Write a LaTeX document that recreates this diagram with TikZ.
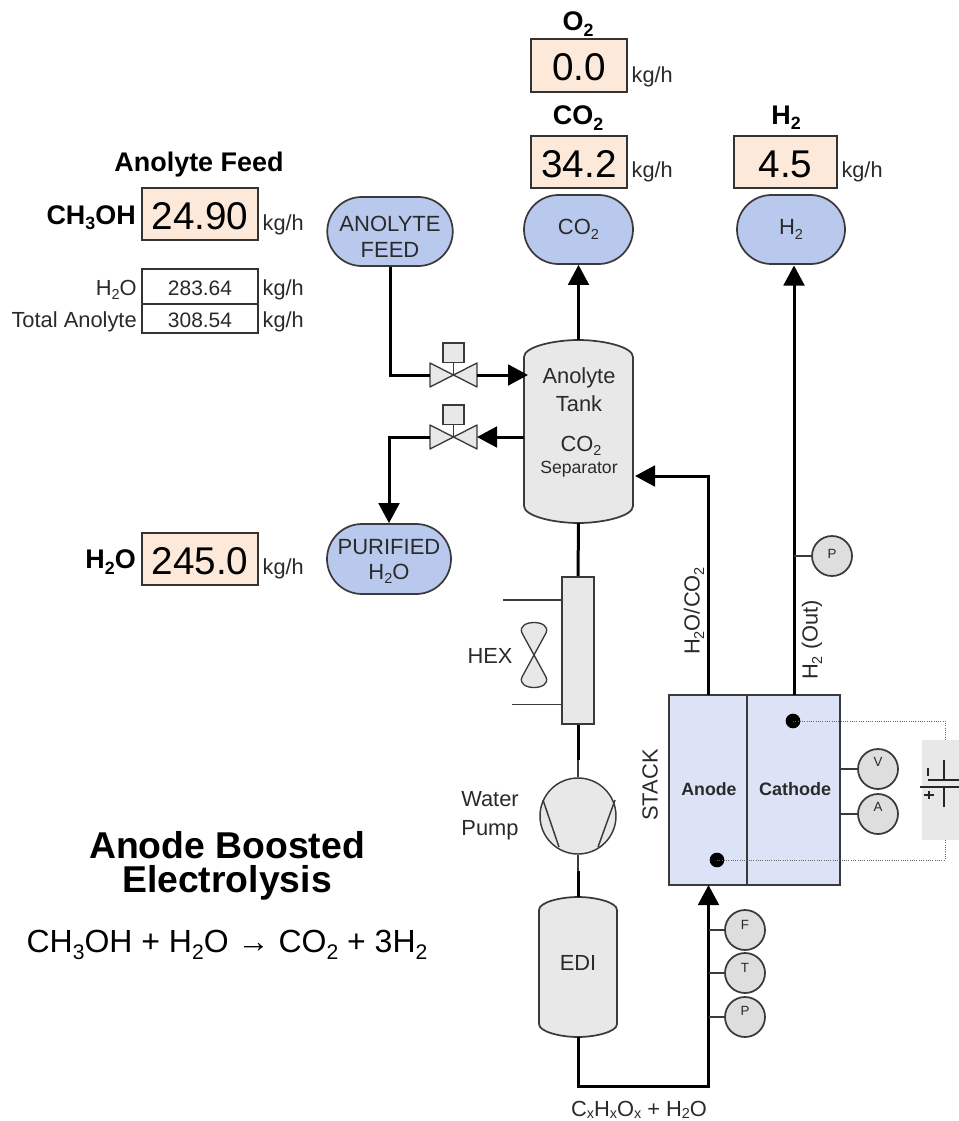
\documentclass[tikz,border=0pt]{standalone}
\usepackage{fontspec}
\usepackage{graphicx}
\setmainfont{Liberation Sans}
\usetikzlibrary{arrows.meta,shapes.misc,calc}
\newcommand{\lowsub}[1]{\raisebox{-0.2em}{\scalebox{.66}{#1}}}
\newcommand{\fsz}[1]{\fontsize{#1}{#1}\selectfont}
\definecolor{boxfill}{HTML}{FCE9DA}
\definecolor{termfill}{HTML}{B9C9EE}
\definecolor{stackfill}{HTML}{DCE3F6}
\definecolor{vesselfill}{HTML}{E8E8E8}
\definecolor{instfill}{HTML}{DEDEDE}
\definecolor{edge}{HTML}{3A3A3A}
\definecolor{ink}{HTML}{2A2A2A}
\tikzset{
  x=0.75pt,y=-0.75pt,
  pipe/.style={line width=2.25pt,black},
  flow/.style={pipe,-{Triangle[length=15pt,width=15.5pt]}},
  thinpipe/.style={line width=1.4pt,edge},
  stub/.style={line width=1.5pt,edge},
  outline/.style={draw=edge,line width=1.3pt},
  term/.style={rounded rectangle,outline,fill=termfill,inner sep=0pt,align=center,text=ink,font=\fsz{16.5pt},minimum width=#1},
  term/.default=93pt,
  valbox/.style={draw=black!80,line width=1.2pt,fill=boxfill,inner sep=0pt,font=\fsz{29pt},text=black,text height=23pt,text depth=0pt},
  plainbox/.style={draw=black!80,line width=1.2pt,fill=white,inner sep=0pt,font=\fsz{15.7pt},text=ink,text height=14pt,text depth=0pt},
  unit/.style={inner sep=0pt,font=\fsz{16.3pt},text=ink,yshift=-1.5pt},
  rlabel/.style={inner sep=0pt,anchor=east,font=\fsz{16.4pt},text=ink,yshift=-1.5pt},
  blabel/.style={inner sep=0pt,font=\bfseries\fsz{20.2pt},text=black,yshift=-1.5pt},
  lbl/.style={inner sep=0pt,font=\fsz{16.4pt},text=ink,align=center},
  ghost/.style={inner sep=0pt,outer sep=0pt,draw=none},
  inst/.style={circle,outline,fill=instfill,inner sep=0pt,minimum size=30pt},
  instl/.style={inner sep=0pt,font=\fsz{10pt},text=ink},
  dot/.style={circle,fill=black,inner sep=0pt,minimum size=11pt},
  wire/.style={line width=0.7pt,black!60,densely dotted},
}
% vessel outline: #1 cx, #2 half width, #3 top, #4 bottom, #5 shoulder
\newcommand{\vesselshape}[5]{%
  \draw[outline,fill=vesselfill]
    ({#1-#2},{#3+#5}) .. controls ({#1-#2},{#3+#5*0.4}) and ({#1-#2*0.45},#3) .. (#1,#3)
    .. controls ({#1+#2*0.45},#3) and ({#1+#2},{#3+#5*0.4}) .. ({#1+#2},{#3+#5})
    -- ({#1+#2},{#4-#5})
    .. controls ({#1+#2},{#4-#5*0.4}) and ({#1+#2*0.45},#4) .. (#1,#4)
    .. controls ({#1-#2*0.45},#4) and ({#1-#2},{#4-#5*0.4}) .. ({#1-#2},{#4-#5}) -- cycle;}
% valve: #1 name, #2 cx, #3 cy, square top
\newcommand{\valveshape}[3]{%
  \node[ghost,minimum width=35.25pt,minimum height=18pt] (#1) at (#2,#3) {};
  \draw[line width=1pt,edge,fill=vesselfill,line join=round]
    ({#2-23.5},{#3-12}) -- ({#2+23.5},{#3+12}) -- ({#2+23.5},{#3-12}) -- ({#2-23.5},{#3+12}) -- cycle;
  \draw[line width=1pt,edge] (#2,#3) -- (#2,{#3-14});
  \draw[line width=1pt,edge,fill=vesselfill] ({#2-10.5},{#3-32}) rectangle ({#2+10.5},{#3-12.5});}
\begin{document}
\begin{tikzpicture}
\useasboundingbox (0,0) rectangle (959,1121);

% Battery background
\fill[vesselfill] (922,740) rectangle (959,840);

% Vessels
\vesselshape{578.5}{54.5}{340}{523}{17}
\node[ghost,minimum width=81.75pt,minimum height=137.25pt] (tank) at (578.5,431.5) {};
\vesselshape{578}{39}{897}{1037}{13}
\node[ghost,minimum width=58.5pt,minimum height=105pt] (edi) at (578,967) {};

% Terminals
\node[term=93pt,minimum height=51.75pt] (feed) at (390,231.5) {\rule{0pt}{20pt}ANOLYTE\\[3pt]FEED};
\node[term=81.75pt,minimum height=51.75pt] (tco2) at (578.5,229.5) {CO\lowsub{2}};
\node[term=81pt,minimum height=51.75pt] (th2) at (791,229.5) {\fsz{16.5pt}H\lowsub{2}};
\node[term=93pt,minimum height=52.5pt] (puri) at (389,559) {\rule{0pt}{15pt}PURIFIED\\[2.5pt]H\lowsub{2}O};

% Valves
\valveshape{v1}{453.5}{375}
\valveshape{v2}{453.5}{437}

% Stack
\node[draw=edge,line width=1.5pt,fill=stackfill,inner sep=0pt,minimum width=59pt,minimum height=142.5pt] (anode) at (708,790) {};
\node[draw=edge,line width=1.5pt,fill=stackfill,inner sep=0pt,minimum width=69.75pt,minimum height=142.5pt] (cathode) at (793.5,790) {};
\node[inner sep=0pt,font=\bfseries\fsz{13.3pt},text=ink] at (709,789) {Anode};
\node[inner sep=0pt,font=\bfseries\fsz{13.5pt},text=ink] at (795,789) {Cathode};
\node[lbl,rotate=90] at (650,785) {STACK};
\node[dot] (dc) at (793,721) {};
\node[dot] (da) at (717,860) {};

% HEX
\node[outline,fill=vesselfill,inner sep=0pt,minimum width=24pt,minimum height=110.25pt] (hex) at (578,650.5) {};
\coordinate (hexa) at (503,600);
\coordinate (hexb) at (512,704.5);
\draw[line width=1.1pt,edge] (hexa) -- (hexa -| hex.west);
\draw[line width=1.1pt,edge] (hexb) -- (hexb -| hex.west);
\draw[line width=1pt,edge,fill=vesselfill]
  (522,633) .. controls (516,619) and (552,619) .. (546,633) -- (522,677)
  .. controls (516,691) and (552,691) .. (546,677) -- cycle;
\node[lbl] at (490,656) {HEX};

% Pump
\node[circle,draw=edge,line width=1.1pt,fill=vesselfill,inner sep=0pt,minimum size=57pt] (pump) at (578,816) {};
\draw[line width=1.1pt,edge] (543,800) -- (559,847);
\draw[line width=1.1pt,edge] (615,800) -- (598,847);
\node[lbl,anchor=center] at (490,816) {Water\\[5pt]Pump};

% Pipes
\draw[pipe] (feed.south) |- (v1.west);
\draw[flow,shorten >=-3pt] (v1.east) -- (v1 -| tank.west);
\draw[flow] (v2 -| tank.west) -- (v2.east);
\draw[flow] (v2.west) -| (puri.north);
\draw[flow] (tank.north) -- (tco2.south);
\draw[pipe] (tank.south) -- (hex.north);
\draw[thinpipe] (hex.south) -- (pump.north);
\coordinate (hexend) at (578,760);
\draw[pipe] (hex.south) -- (hexend);
\draw[thinpipe] (pump.south) -- (edi.north);
\coordinate (ediin) at (578,871);
\draw[pipe] (ediin) -- (edi.north);
\coordinate (corner) at (708.5,1086.5);
\coordinate (ain) at (708.5,885);
\draw[flow] (edi.south) |- (corner) -- (ain);
\coordinate (aout) at (708.5,695);
\coordinate (tin) at (635,476);
\draw[flow] (aout) |- (tin);
\coordinate (cout) at (794,695);
\coordinate (h2in) at (794,265.5);
\draw[flow] (cout) -- (h2in);
\node[lbl,rotate=90] at (694,611) {H\lowsub{2}O/CO\lowsub{2}};
\node[lbl,rotate=90] at (812,640) {H\lowsub{2} (Out)};
\node[inner sep=0pt,font=\fsz{16.4pt},text=ink] at (639,1110) {C\raisebox{-0.12em}{\scalebox{.66}{x}}H\raisebox{-0.12em}{\scalebox{.66}{x}}O\raisebox{-0.12em}{\scalebox{.66}{x}} + H\raisebox{-0.12em}{\scalebox{.66}{2}}O};

% Tank text
\node[lbl] at (579,378) {Anolyte};
\node[lbl] at (579,404) {Tank};
\node[lbl] at (581,446) {CO\lowsub{2}};
\node[inner sep=0pt,font=\fsz{13.2pt},text=ink] at (579,469) {Separator};
\node[lbl] at (578,963) {EDI};

% Instruments
\node[inst] (ip) at (832,556) {};
\node[instl] at (832,554) {P};
\draw[stub] (794,556) -- (ip.west);
\node[inst] (iv) at (878,769) {};
\node[instl] at (878,762) {V};
\node[inst] (ia) at (878,814) {};
\node[instl] at (878,807) {A};
\draw[stub] (iv.west) -- (iv -| cathode.east);
\draw[stub] (ia.west) -- (ia -| cathode.east);
\node[inst] (if) at (745,930) {};
\node[instl] at (745,925) {F};
\node[inst] (it) at (745,973) {};
\node[instl] at (745,968) {T};
\node[inst] (ipp) at (745,1017) {};
\node[instl] at (745,1011) {P};
\draw[stub] (if.west) -- (if -| ain);
\draw[stub] (it.west) -- (it -| ain);
\draw[stub] (ipp.west) -- (ipp -| ain);

% Battery wiring
\coordinate (wtop) at (945,740);
\coordinate (wbot) at (945,840);
\draw[wire] (dc.center) -| (wtop);
\draw[wire] (da.center) -| (wbot);
\draw[line width=1.7pt,black!85] (928,780) -- (959,780);
\draw[line width=1.7pt,black!85] (920,787) -- (959,787);
\draw[line width=1.7pt,black!85] (944,760) -- (944,780);
\draw[line width=1.7pt,black!85] (944,787) -- (944,807);
\draw[line width=1.7pt,black!85] (928,768) -- (928,776);
\draw[line width=1.3pt,black!85] (924,795) -- (934,795);
\draw[line width=1.3pt,black!85] (929,791) -- (929,799);

% Readouts
\node[blabel] at (578,22) {O\lowsub{2}};
\node[valbox,minimum width=72pt,minimum height=39.5pt] (bo2) at (579,65.5) {0.0};
\node[unit,anchor=west] at (bo2.east |- 0,75) {\,kg/h};
\node[blabel] at (578,116) {CO\lowsub{2}};
\node[valbox,minimum width=72pt,minimum height=39pt] (bco2) at (579,162) {34.2};
\node[unit,anchor=west] at (bco2.east |- 0,170) {\,kg/h};
\node[blabel] at (786,116) {H\lowsub{2}};
\node[valbox,minimum width=77pt,minimum height=39pt] (bh2) at (785.5,162) {4.5};
\node[unit,anchor=west] at (bh2.east |- 0,170) {\,kg/h};

\node[blabel] at (199,163) {Anolyte Feed};
\node[valbox,minimum width=87pt,minimum height=39pt] (bm) at (200,214) {24.90};
\node[blabel,anchor=east] at (136,216) {CH\lowsub{3}OH};
\node[unit,anchor=west] at (bm.east |- 0,223) {\,kg/h};
\node[plainbox,minimum width=87pt,minimum height=26.5pt] (bw) at (200,286.5) {283.64};
\node[plainbox,minimum width=87pt,minimum height=21.75pt] (bt) at (200,318.5) {308.54};
\node[rlabel] at (137,288) {H\lowsub{2}O};
\node[rlabel] at (137,320) {Total Anolyte};
\node[unit,anchor=west] at (bw.east |- 0,288) {\,kg/h};
\node[unit,anchor=west] at (bt.east |- 0,320) {\,kg/h};

\node[valbox,minimum width=87pt,minimum height=39pt] (bp) at (200,559) {245.0};
\node[blabel,anchor=east] at (136,560) {H\lowsub{2}O};
\node[unit,anchor=west] at (bp.east |- 0,567) {\,kg/h};

% Title
\node[inner sep=0pt,font=\bfseries\fsz{28pt},text=black] at (227,845) {Anode Boosted};
\node[inner sep=0pt,font=\bfseries\fsz{28pt},text=black] at (227,883) {Electrolysis};
\node[inner sep=0pt,font=\fsz{24pt},text=black] at (227,945) {CH\lowsub{3}OH + H\lowsub{2}O → CO\lowsub{2} + 3H\lowsub{2}};
\end{tikzpicture}
\end{document}
